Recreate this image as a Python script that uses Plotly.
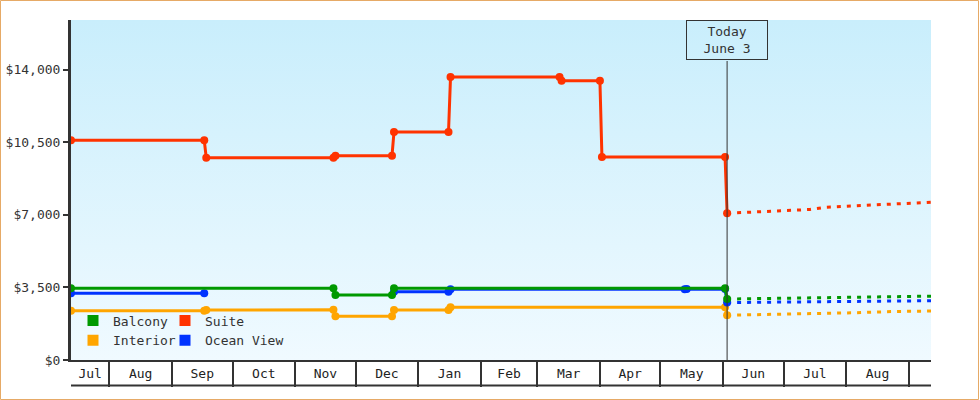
import base64
import datetime as dt
import plotly.graph_objects as go

# ---------------- data ----------------
suite_dates = ["2014-07-13", "2014-09-17", "2014-09-18", "2014-11-20", "2014-11-21",
               "2014-12-19", "2014-12-20", "2015-01-16", "2015-01-17", "2015-03-12",
               "2015-03-13", "2015-04-01", "2015-04-02", "2015-06-02", "2015-06-03"]
suite_values = [10600, 10600, 9750, 9750, 9850, 9850, 11000, 11000, 13650, 13650,
                13470, 13470, 9790, 9790, 7080]

balcony_dates = ["2014-07-13", "2014-11-20", "2014-11-21", "2014-12-19", "2014-12-20",
                 "2015-06-02", "2015-06-03"]
balcony_values = [3460, 3460, 3140, 3140, 3460, 3460, 2940]

ocean_dates = ["2014-07-13", "2014-09-17", "2014-11-01", "2014-12-20", "2015-01-16",
               "2015-01-17", "2015-05-13", "2015-05-14", "2015-06-02", "2015-06-03"]
ocean_values = [3220, 3220, None, 3290, 3290, 3410, 3410, 3430, 3430, 2770]

interior_dates = ["2014-07-13", "2014-09-17", "2014-09-18", "2014-11-20", "2014-11-21",
                  "2014-12-19", "2014-12-20", "2015-01-16", "2015-01-17", "2015-06-02",
                  "2015-06-03"]
interior_values = [2370, 2370, 2410, 2420, 2110, 2110, 2410, 2410, 2540, 2540, 2160]

# forecasts (dotted)
suite_fc_dates = ["2015-06-03", "2015-07-14", "2015-07-22", "2015-09-12"]
suite_fc_values = [7080, 7260, 7370, 7610]
balcony_fc_dates = ["2015-06-03", "2015-06-20", "2015-07-23", "2015-08-26", "2015-09-12"]
balcony_fc_values = [2940, 2960, 3010, 3060, 3080]
ocean_fc_dates = ["2015-06-03", "2015-07-15", "2015-07-16", "2015-09-12"]
ocean_fc_values = [2770, 2800, 2830, 2860]
interior_fc_dates = ["2015-06-03", "2015-07-12", "2015-08-06", "2015-08-24", "2015-09-12"]
interior_fc_values = [2160, 2220, 2280, 2340, 2360]

series_names = ["Balcony", "Suite", "Interior", "Ocean View"]
series_colors = {"Balcony": "#009900", "Suite": "#ff3300",
                 "Interior": "#ffa500", "Ocean View": "#0033ff"}

x_start, x_end = "2014-07-13", "2015-09-12"
today = "2015-06-03"
today_label = "Today<br>June 3"

month_starts = ["2014-07-01", "2014-08-01", "2014-09-01", "2014-10-01", "2014-11-01",
                "2014-12-01", "2015-01-01", "2015-02-01", "2015-03-01", "2015-04-01",
                "2015-05-01", "2015-06-01", "2015-07-01", "2015-08-01", "2015-09-01",
                "2015-10-01"]
month_labels = ["Jul", "Aug", "Sep", "Oct", "Nov", "Dec", "Jan", "Feb", "Mar", "Apr",
                "May", "Jun", "Jul", "Aug", "Sep"]

y_ticks = [0, 3500, 7000, 10500, 14000]
y_max = 16400

# ---------------- helpers ----------------
def d(s):
    return dt.datetime.strptime(s, "%Y-%m-%d")

xs, xe = d(x_start), d(x_end)
label_pos, label_txt = [], []
for i, lab in enumerate(month_labels):
    a = max(d(month_starts[i]), xs)
    b = min(d(month_starts[i + 1]), xe)
    if (b - a).days >= 15:
        label_pos.append((a + (b - a) / 2).strftime("%Y-%m-%d %H:%M"))
        label_txt.append(lab)
boundaries = [m for m in month_starts if xs < d(m) < xe]

FONT = "DejaVu Sans Mono"
DARK = "#333333"

fig = go.Figure()

solid = {"Balcony": (balcony_dates, balcony_values),
         "Suite": (suite_dates, suite_values),
         "Interior": (interior_dates, interior_values),
         "Ocean View": (ocean_dates, ocean_values)}
fc = {"Balcony": (balcony_fc_dates, balcony_fc_values),
      "Suite": (suite_fc_dates, suite_fc_values),
      "Interior": (interior_fc_dates, interior_fc_values),
      "Ocean View": (ocean_fc_dates, ocean_fc_values)}

draw_order = ["Interior", "Ocean View", "Balcony", "Suite"]
for name in draw_order:
    xd, yd = fc[name]
    fig.add_trace(go.Scatter(x=xd, y=yd, mode="lines", showlegend=False,
                             line=dict(color=series_colors[name], width=3, dash="4px,6px"),
                             hoverinfo="skip"))
for name in draw_order:
    xd, yd = solid[name]
    fig.add_trace(go.Scatter(x=xd, y=yd, mode="lines+markers", name=name, showlegend=False,
                             connectgaps=False,
                             line=dict(color=series_colors[name], width=3),
                             marker=dict(color=series_colors[name], size=8, symbol="circle")))

# legend entries (square swatches): column 1 = Balcony, Interior; column 2 = Suite, Ocean View
for name in series_names:
    col = "legend" if name in ("Balcony", "Interior") else "legend2"
    fig.add_trace(go.Scatter(x=[None], y=[None], mode="markers", name=name,
                             marker=dict(color=series_colors[name], size=11, symbol="square"),
                             legend=col))

# gradient background as svg image
svg = ('<svg xmlns="http://www.w3.org/2000/svg" width="10" height="100" preserveAspectRatio="none">'
       '<defs><linearGradient id="g" x1="0" y1="0" x2="0" y2="1">'
       '<stop offset="0" stop-color="#c9eefc"/><stop offset="1" stop-color="#f0faff"/>'
       '</linearGradient></defs><rect width="10" height="100" fill="url(#g)"/></svg>')
src = "data:image/svg+xml;base64," + base64.b64encode(svg.encode()).decode()

W, H = 980, 400
ML, MR, MT, MB = 71, 49, 20, 40
PW, PH = W - ML - MR, H - MT - MB

fig.add_layout_image(dict(source=src, xref="paper", yref="paper", x=0, y=1,
                          sizex=1, sizey=1, sizing="stretch", layer="below",
                          xanchor="left", yanchor="top"))

shapes = []
# bottom line of month band
shapes.append(dict(type="line", xref="paper", yref="paper", x0=0, x1=1,
                   y0=-25.5 / PH, y1=-25.5 / PH, line=dict(color=DARK, width=2)))
# today line
shapes.append(dict(type="line", xref="x", yref="paper", x0=today, x1=today,
                   y0=0, y1=(PH - 41) / PH, line=dict(color=DARK, width=1), layer="above"))
# outer border
shapes.append(dict(type="rect", xref="paper", yref="paper",
                   x0=(0.5 - ML) / PW, x1=(W - 1.5 - ML) / PW,
                   y0=-(MB - 0.5) / PH, y1=1 + (MT - 0.5) / PH,
                   line=dict(color="#e6aa66", width=1)))

leg_common = dict(orientation="v", yanchor="middle", y=(360 - 330.5) / PH,
                  xanchor="left", bgcolor="rgba(0,0,0,0)", itemwidth=30,
                  tracegroupgap=0, font=dict(family=FONT, size=13, color=DARK))

fig.update_layout(
    width=W, height=H,
    margin=dict(l=ML, r=MR, t=MT, b=MB, autoexpand=False),
    paper_bgcolor="white", plot_bgcolor="rgba(0,0,0,0)",
    font=dict(family=FONT, size=13, color=DARK),
    shapes=shapes,
    annotations=[dict(x=today, xref="x", y=1, yref="paper", yanchor="top",
                      text=today_label, showarrow=False, align="center",
                      bordercolor=DARK, borderwidth=1, borderpad=3, width=74,
                      font=dict(family=FONT, size=13, color=DARK))],
    xaxis=dict(type="date", range=[x_start, x_end], showgrid=False, zeroline=False,
               automargin=False,
               showline=True, linecolor=DARK, linewidth=2,
               tickmode="array", tickvals=label_pos, ticktext=label_txt, ticks="",
               ticklabelstandoff=0,
               tickfont=dict(family=FONT, size=13, color="#222"),
               minor=dict(tickmode="array", tickvals=boundaries, ticks="outside",
                          ticklen=25, tickwidth=2, tickcolor=DARK, showgrid=False)),
    yaxis=dict(range=[0, y_max], tickvals=y_ticks, tickformat="$,.0f",
               automargin=False,
               showgrid=False, zeroline=False, showline=True, linecolor=DARK, linewidth=3,
               ticks="outside", ticklen=5, tickwidth=2, tickcolor=DARK,
               tickfont=dict(family=FONT, size=13, color=DARK)),
    legend=dict(x=2 / PW, **leg_common),
    legend2=dict(x=94 / PW, **leg_common),
    hovermode="closest",
)

fig.write_html("out.html", config={"displayModeBar": False},
               post_script="document.body.style.margin='0';")
